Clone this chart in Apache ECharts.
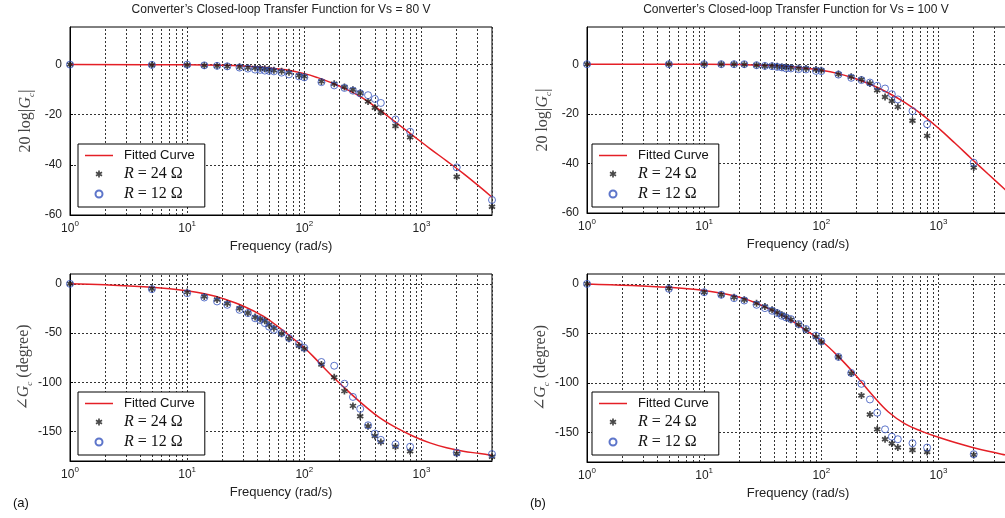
<!DOCTYPE html>
<html>
<head>
<meta charset="utf-8">
<script src="https://cdn.jsdelivr.net/npm/echarts@6/dist/echarts.min.js"></script>
<style>
html,body{margin:0;padding:0;background:#fff;}
#c{width:1005px;height:518px;}
</style>
</head>
<body>
<div id="c"></div>
<script>
// ---------- data ----------
const titleA = 'Converter’s Closed-loop Transfer Function for Vs = 80 V';
const titleB = 'Converter’s Closed-loop Transfer Function for Vs = 100 V';
const xName = 'Frequency (rad/s)';
const legendNames = ['Fitted Curve', 'R = 24 Ω', 'R = 12 Ω'];

// measured frequencies (rad/s)
const freqA = [1,5,10,14,18,22,28,33,38,42,46,50,55,64,74,90,100,140,180,220,260,300,350,400,450,600,800,2000,4000];
const freqB = [1,5,10,14,18,22,28,33,38,42,46,50,55,64,74,90,100,140,180,220,260,300,350,400,450,600,800,2000];

// Vs = 80 V
const magA24 = [0,-0.2,-0.2,-0.4,-0.5,-0.7,-0.9,-1.2,-1.3,-1.5,-1.7,-2.0,-2.3,-2.7,-3.1,-4.3,-4.7,-6.7,-7.6,-8.9,-10.0,-11.3,-14.7,-17.2,-18.9,-24.5,-29.0,-44.7,-56.7];
const magA12 = [0,-0.1,0,-0.3,-0.5,-0.7,-1.2,-1.6,-2.0,-2.1,-2.4,-2.5,-2.7,-3.2,-3.9,-4.7,-5.1,-7.0,-8.3,-9.3,-10.4,-11.5,-12.2,-13.7,-15.3,-21.9,-26.8,-41.0,-54.0];
const phA24 = [0,-5.0,-8.4,-12.8,-16.0,-20.0,-24.7,-29.7,-33.8,-35.8,-37.5,-41.6,-45.0,-50.7,-55.7,-62.8,-66.2,-82.0,-95.0,-109.0,-124.0,-134.5,-144.6,-154.7,-160.8,-165.5,-170.0,-172.6,-175.7];
const phA12 = [0,-5.4,-9.5,-13.9,-17.9,-21.3,-26.4,-29.7,-35.0,-36.8,-39.9,-43.5,-46.7,-50.0,-55.0,-60.8,-65.0,-79.4,-83.2,-101.5,-114.9,-127.0,-143.7,-152.1,-158.5,-163.0,-165.5,-171.5,-173.0];
const fitMagAFreq = [1,10,20,30,50,70,100,130,165,230,318,442,613,851,1180,1637,2270,3150,4000];
const fitMagA = [0,-0.1,-0.3,-0.6,-1.3,-2.1,-3.6,-5.2,-7.0,-9.9,-13.5,-18.2,-23.3,-28.4,-33.5,-38.4,-43.4,-48.8,-52.9];
const fitPhAFreq = [1,2,5,10,15,20,30,45,62,86,100,119,165,229,318,442,613,851,1180,1637,2270,3150,4000];
const fitPhA = [0,-1.0,-3.4,-7.0,-10.8,-14.8,-22.5,-33.1,-45.0,-58.5,-65.0,-73.7,-91.3,-107.5,-122.7,-136.2,-146.4,-154.8,-161.6,-166.6,-170.1,-172.4,-174.3];

// Vs = 100 V
const magB24 = [0,0,0,0,0,-0.1,-0.4,-0.7,-0.7,-0.8,-1.1,-1.1,-1.3,-1.5,-1.7,-2.1,-2.4,-4.0,-5.1,-6.2,-7.8,-10.5,-13.2,-14.8,-17.2,-22.8,-28.9,-41.7];
const magB12 = [0,0,0,0,0,0,-0.4,-0.7,-0.8,-1.1,-1.3,-1.7,-1.7,-2.0,-2.1,-2.7,-2.8,-4.2,-5.5,-6.4,-7.4,-8.7,-9.8,-12.1,-14.2,-18.9,-24.2,-39.7];
const phB24 = [0,-4.4,-8.4,-11.0,-13.4,-16.0,-19.5,-22.8,-26.2,-28.9,-31.2,-33.6,-36.2,-41.3,-46.3,-53.7,-59.0,-73.8,-90.6,-112.8,-131.9,-147.0,-157.0,-161.4,-165.4,-167.8,-169.8,-172.8];
const phB12 = [0,-5.0,-8.4,-11.0,-14.4,-16.8,-21.1,-24.5,-27.2,-29.5,-32.2,-33.9,-35.6,-40.6,-45.6,-52.3,-58.0,-73.8,-90.0,-101.0,-116.8,-130.2,-147.0,-154.4,-157.0,-161.0,-165.4,-172.1];
const fitMagBFreq = [1,10,20,30,50,70,100,140,194,270,374,519,720,1000,1386,1922,2667,3700,4000];
const fitMagB = [0,0,-0.1,-0.4,-0.8,-1.5,-2.4,-3.8,-5.8,-8.4,-11.6,-15.5,-20.2,-25.8,-31.9,-38.2,-44.4,-50.5,-52.0];
const fitPhBFreq = [1,5,10,20,30,52,74,100,140,194,276,374,519,720,1000,1386,1922,2667,3700,4000];
const fitPhB = [0,-3.4,-6.7,-13.4,-21.0,-35.0,-47.0,-57.5,-73.5,-91.5,-113.0,-129.5,-141.5,-149.0,-155.0,-160.3,-165.0,-169.2,-172.8,-173.5];

// axis ticks
const magTicks = [-60,-40,-20,0];
const phaseTicks = [-150,-100,-50,0];
const minorGrid = [2,3,4,5,6,7,8,9,20,30,40,50,60,70,80,90,200,300,400,500,600,700,800,900,2000,3000];

// ---------- styling ----------
const RED = '#e41f26', BLUE = '#3553bd', BLACK = '#1a1a1a';
const SANS = '"Liberation Sans", Arial, Helvetica, sans-serif';
const SERIF = '"Liberation Serif", "DejaVu Serif", serif';
const GRIDLINE = {color:'#333', type:[2,2], width:1};
const ASTERISK = 'path://M-1.2,-5 L-1.2,5 L1.2,5 L1.2,-5 Z M3.73,3.54 L4.93,1.46 L-3.73,-3.54 L-4.93,-1.46 Z M-4.93,1.46 L-3.73,3.54 L4.93,-1.46 L3.73,-3.54 Z';
const LINE_ICON = 'path://M0,0 L28,0 L28,1.5 L0,1.5 Z';

function pairs(xs, ys){ return xs.map((x,i)=>[x, ys[i]]); }

const grids = [
  {left:70,  top:27,  width:422, height:188},
  {left:70,  top:274, width:422, height:187},
  {left:587, top:27,  width:422, height:186},
  {left:587, top:274, width:422, height:188}
].map(g => Object.assign({show:true, borderColor:'#000', borderWidth:1, backgroundColor:'#fff', containLabel:false, outerBoundsMode:'none'}, g));

const xAxes = grids.map((g,i) => ({
  type:'log', logBase:10, min:1, max:4000, gridIndex:i,
  axisLine:{show:true, onZero:false, lineStyle:{color:'#000', width:1}},
  axisTick:{show:false},
  minorTick:{show:false},
  axisLabel:{
    margin:5, color:'#222',
    formatter: v => {
      const e = Math.log10(v);
      if (Math.abs(e - Math.round(e)) > 1e-6) return '';
      return '{b|10}{s|' + Math.round(e) + '}';
    },
    rich:{
      b:{fontFamily:SANS, fontSize:12, color:'#222', lineHeight:18},
      s:{fontFamily:SANS, fontSize:8, color:'#222', lineHeight:9, verticalAlign:'top'}
    }
  },
  splitLine:{show:true, lineStyle:GRIDLINE},
  name:xName, nameLocation:'middle', nameGap:25,
  nameTextStyle:{fontFamily:SANS, fontSize:13, color:'#222'}
}));

const nameRich = {
  n:{fontFamily:SERIF, fontSize:16, color:'#444', lineHeight:20},
  b:{fontFamily:SERIF, fontSize:18, color:'#444', lineHeight:20},
  g:{fontFamily:SERIF, fontSize:16, fontStyle:'italic', color:'#444', lineHeight:20},
  c:{fontFamily:SERIF, fontSize:9, fontStyle:'italic', color:'#444', lineHeight:9, verticalAlign:'bottom'}
};
const magName = '{n|20 log}{b||}{g|G}{c|c}{b||}';
const phName = '{n|∠}{g|G}{c|c}{n| (degree)}';

const yAxes = grids.map((g,i) => {
  const isMag = (i % 2 === 0);
  const ticks = isMag ? magTicks : phaseTicks;
  return {
    type:'value', gridIndex:i,
    min: isMag ? -60 : -180, max: isMag ? 15 : 10,
    axisLine:{show:true, onZero:false, lineStyle:{color:'#000', width:1}},
    axisTick:{show:true, inside:true, length:3, customValues:ticks, lineStyle:{color:'#000'}},
    axisLabel:{customValues:ticks, margin:8, color:'#222', fontFamily:SANS, fontSize:12},
    splitLine:{show:true, lineStyle:GRIDLINE},
    name: isMag ? magName : phName,
    nameLocation:'middle', nameRotate:90, nameGap:34,
    nameTextStyle:{rich:nameRich}
  };
});

function panelSeries(gi, fitF, fitV, f, v24, v12){
  return [
    {type:'line', name:legendNames[0], xAxisIndex:gi, yAxisIndex:gi,
     data:pairs(fitF, fitV), symbol:'none', smooth:0.4,
     lineStyle:{color:RED, width:1.5}, itemStyle:{color:RED}, z:3, silent:true,
     markLine:{silent:true, symbol:['none','none'], label:{show:false},
       lineStyle:GRIDLINE, emphasis:{disabled:true}, animation:false, z:1,
       data:minorGrid.map(v => ({xAxis:v}))}},
    {type:'scatter', name:legendNames[1], xAxisIndex:gi, yAxisIndex:gi,
     data:pairs(f, v24), symbol:ASTERISK, symbolSize:7,
     itemStyle:{color:BLACK}, z:4, silent:true},
    {type:'scatter', name:legendNames[2], xAxisIndex:gi, yAxisIndex:gi,
     data:pairs(f, v12), symbol:'circle', symbolSize:7,
     itemStyle:{color:'rgba(0,0,0,0)', borderColor:BLUE, borderWidth:1}, z:5, silent:true}
  ];
}

const series = [].concat(
  panelSeries(0, fitMagAFreq, fitMagA, freqA, magA24, magA12),
  panelSeries(1, fitPhAFreq, fitPhA, freqA, phA24, phA12),
  panelSeries(2, fitMagBFreq, fitMagB, freqB, magB24, magB12),
  panelSeries(3, fitPhBFreq, fitPhB, freqB, phB24, phB12)
);

const legendPos = [[78,144],[78,392],[592,144],[592,392]];
const legends = legendPos.map(p => ({
  left:p[0], top:p[1], orient:'vertical', selectedMode:false, z:20, zlevel:0,
  backgroundColor:'#fff', borderColor:'#000', borderWidth:1, borderRadius:0,
  padding:[5,10,5,7], itemGap:4, itemWidth:28, itemHeight:7,
  data:[{name:legendNames[0], icon:LINE_ICON}, {name:legendNames[1]}, {name:legendNames[2]}],
  formatter: name => name === 'Fitted Curve'
      ? '{f|Fitted Curve}'
      : '{i|R}{m| = ' + name.split('= ')[1] + '}',
  textStyle:{rich:{
    f:{fontFamily:SANS, fontSize:13, color:'#111', lineHeight:18, padding:[0,0,0,6]},
    i:{fontFamily:SERIF, fontSize:16, fontStyle:'italic', color:'#111', lineHeight:18, padding:[0,0,0,6]},
    m:{fontFamily:SERIF, fontSize:16, color:'#111', lineHeight:18}
  }}
}));

const titleStyle = {fontFamily:SANS, fontSize:12, fontWeight:'normal', color:'#222'};
const titles = [
  {text:titleA, left:281, top:4, textAlign:'center', padding:0, textStyle:titleStyle},
  {text:titleB, left:796, top:4, textAlign:'center', padding:0, textStyle:titleStyle},
  {text:'(a)', left:13, top:497, padding:0, textStyle:{fontFamily:SANS, fontSize:13, fontWeight:'normal', color:'#111'}},
  {text:'(b)', left:530, top:497, padding:0, textStyle:{fontFamily:SANS, fontSize:13, fontWeight:'normal', color:'#111'}}
];

const chart = echarts.init(document.getElementById('c'), null, {renderer:'canvas'});
chart.setOption({
  animation:false,
  backgroundColor:'#fff',
  title:titles,
  grid:grids,
  xAxis:xAxes,
  yAxis:yAxes,
  legend:legends,
  series:series
});
</script>
</body>
</html>
